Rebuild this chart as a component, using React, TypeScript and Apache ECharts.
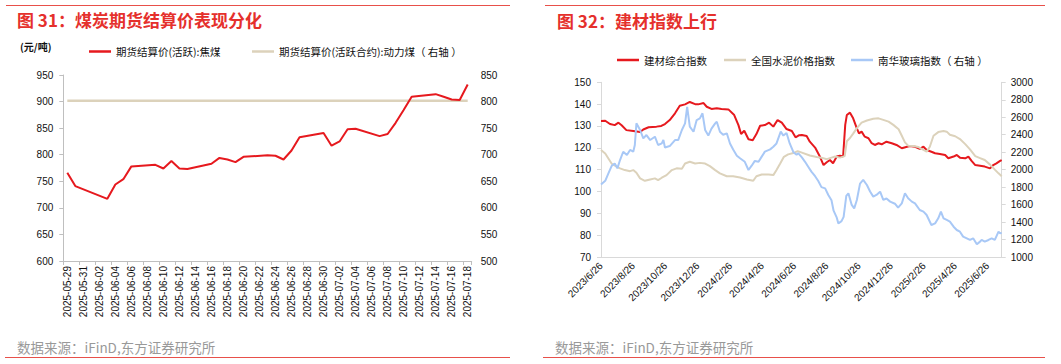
import React, { useEffect, useRef } from "react";
import * as echarts from "echarts";

// ---------- Figure 31 data ----------
const cokeDates = [
  "2025-05-29", "2025-05-30", "2025-06-03", "2025-06-04", "2025-06-05", "2025-06-06",
  "2025-06-09", "2025-06-10", "2025-06-11", "2025-06-12", "2025-06-13",
  "2025-06-16", "2025-06-17", "2025-06-18", "2025-06-19", "2025-06-20",
  "2025-06-23", "2025-06-24", "2025-06-25", "2025-06-26", "2025-06-27",
  "2025-06-30", "2025-07-01", "2025-07-02", "2025-07-03", "2025-07-04",
  "2025-07-07", "2025-07-08", "2025-07-09", "2025-07-10", "2025-07-11",
  "2025-07-14", "2025-07-15", "2025-07-16", "2025-07-17", "2025-07-18",
];
const cokeValues = [
  766, 741, 717, 744, 754, 778,
  781, 774, 788, 774, 773,
  783, 794, 791, 786, 796,
  799, 798, 791, 808, 833,
  841, 817, 825, 848, 849,
  835, 839, 860, 884, 909,
  914, 909, 904, 903, 932,
];
const thermalValues = [
  801.4, 801.4, 801.4, 801.4, 801.4, 801.4,
  801.4, 801.4, 801.4, 801.4, 801.4,
  801.4, 801.4, 801.4, 801.4, 801.4,
  801.4, 801.4, 801.4, 801.4, 801.4,
  801.4, 801.4, 801.4, 801.4, 801.4,
  801.4, 801.4, 801.4, 801.4, 801.4,
  801.4, 801.4, 801.4, 801.4, 801.4,
];

// ---------- Figure 32 data ----------
const bmDates = [
  "2023/6/26", "2023/7/4", "2023/7/13", "2023/7/22", "2023/7/29", "2023/8/4", "2023/8/13", "2023/8/26",
  "2023/9/8", "2023/9/14", "2023/9/24", "2023/10/9", "2023/10/18", "2023/10/25", "2023/11/3", "2023/11/13",
  "2023/11/22", "2023/12/2", "2023/12/11", "2023/12/21", "2023/12/27", "2024/1/6", "2024/1/12", "2024/1/21",
  "2024/1/31", "2024/2/9", "2024/2/22", "2024/3/4", "2024/3/12", "2024/3/17", "2024/3/23", "2024/3/31",
  "2024/4/8", "2024/4/15", "2024/4/22", "2024/5/1", "2024/5/9", "2024/5/17", "2024/5/25", "2024/6/2",
  "2024/6/11", "2024/6/21", "2024/6/28", "2024/7/5", "2024/7/10", "2024/7/19", "2024/7/25", "2024/8/4",
  "2024/8/13", "2024/8/20", "2024/8/26", "2024/9/1", "2024/9/7", "2024/9/14", "2024/9/20", "2024/9/26",
  "2024/9/30", "2024/10/3", "2024/10/9", "2024/10/15", "2024/10/22", "2024/10/26", "2024/10/31", "2024/11/6",
  "2024/11/13", "2024/11/19", "2024/11/25", "2024/12/2", "2024/12/8", "2024/12/17", "2024/12/27", "2025/1/5",
  "2025/1/15", "2025/1/30", "2025/2/9", "2025/2/18", "2025/2/25", "2025/3/3", "2025/3/12", "2025/3/19",
  "2025/3/28", "2025/4/7", "2025/4/13", "2025/4/23", "2025/4/29", "2025/5/5", "2025/5/15", "2025/5/21",
  "2025/5/27", "2025/6/3", "2025/6/12", "2025/6/21", "2025/7/1", "2025/7/7", "2025/7/13", "2025/7/20",
  "2025/7/23",
];
const bmValues = [
  132.3, 132.4, 130.9, 130.4, 131.5, 130.3, 128.1, 127.7,
  127.2, 128.4, 129.4, 129.7, 130.0, 130.9, 132.7, 135.8,
  139.3, 139.9, 141.0, 140.0, 139.9, 140.5, 138.8, 137.8,
  138.1, 137.8, 137.6, 135.0, 130.4, 126.3, 127.8, 123.9,
  123.5, 126.3, 130.1, 130.4, 131.5, 129.7, 132.7, 131.5,
  128.6, 127.7, 124.8, 125.8, 125.9, 125.4, 122.8, 120.1,
  116.0, 112.1, 113.4, 114.4, 112.9, 116.0, 116.4, 116.0,
  130.5, 135.0, 136.1, 133.5, 128.9, 126.6, 127.4, 125.1,
  124.4, 122.1, 121.3, 122.1, 121.6, 122.8, 122.1, 121.3,
  119.8, 120.8, 120.5, 119.5, 120.5, 119.0, 118.2, 117.5,
  117.2, 116.7, 115.2, 116.0, 116.7, 115.5, 115.2, 116.0,
  114.0, 112.1, 111.8, 111.4, 110.6, 112.1, 112.9, 114.0,
  114.4,
];

const cementDates = [
  "2023/6/26", "2023/7/4", "2023/7/10", "2023/7/16", "2023/7/24", "2023/8/1", "2023/8/10", "2023/8/20",
  "2023/8/26", "2023/9/1", "2023/9/8", "2023/9/17", "2023/9/27", "2023/10/6", "2023/10/12", "2023/10/19",
  "2023/10/28", "2023/11/7", "2023/11/16", "2023/11/26", "2023/12/2", "2023/12/11", "2023/12/21", "2023/12/30",
  "2024/1/9", "2024/1/18", "2024/1/28", "2024/2/6", "2024/2/19", "2024/3/2", "2024/3/15", "2024/3/28",
  "2024/4/9", "2024/4/15", "2024/4/25", "2024/5/8", "2024/5/17", "2024/5/23", "2024/5/30", "2024/6/6",
  "2024/6/14", "2024/6/24", "2024/7/2", "2024/7/10", "2024/7/25", "2024/8/7", "2024/8/16", "2024/8/26",
  "2024/9/4", "2024/9/11", "2024/9/20", "2024/9/29", "2024/10/3", "2024/10/9", "2024/10/15", "2024/10/22",
  "2024/10/31", "2024/11/10", "2024/11/22", "2024/12/2", "2024/12/11", "2024/12/21", "2024/12/30", "2025/1/9",
  "2025/1/15", "2025/1/21", "2025/1/27", "2025/2/6", "2025/2/15", "2025/2/25", "2025/3/3", "2025/3/9",
  "2025/3/16", "2025/3/25", "2025/4/4", "2025/4/10", "2025/4/16", "2025/4/26", "2025/5/5", "2025/5/15",
  "2025/5/24", "2025/6/3", "2025/6/12", "2025/6/21", "2025/7/1", "2025/7/10", "2025/7/17", "2025/7/23",
];
const cementValues = [
  119.0, 117.4, 115.1, 112.8, 111.6, 110.6, 109.8, 109.3,
  109.8, 108.6, 106.0, 104.9, 105.5, 106.0, 105.2, 106.3,
  107.5, 109.8, 110.6, 110.4, 112.8, 113.6, 112.8, 113.1,
  112.8, 111.6, 109.8, 108.3, 107.0, 107.0, 106.4, 105.5,
  104.9, 107.0, 107.8, 107.8, 107.5, 109.8, 112.8, 115.9,
  117.0, 117.6, 118.5, 117.8, 116.5, 115.8, 115.5, 114.8,
  115.5, 116.0, 115.5, 116.2, 123.0, 124.5, 126.5, 129.0,
  131.5, 132.5, 133.3, 133.5, 132.8, 132.0, 130.5, 128.5,
  125.5, 122.5, 121.0, 120.8, 120.4, 119.0, 118.2, 120.5,
  125.5, 127.2, 127.7, 127.4, 126.0, 125.3, 124.0, 121.7,
  119.3, 116.2, 115.3, 114.4, 112.3, 110.0, 108.3, 107.0,
];

const glassDates = [
  "2023/6/26", "2023/7/4", "2023/7/10", "2023/7/16", "2023/7/22", "2023/7/27", "2023/8/1", "2023/8/7",
  "2023/8/14", "2023/8/20", "2023/8/26", "2023/8/29", "2023/9/1", "2023/9/8", "2023/9/14", "2023/9/20",
  "2023/9/27", "2023/10/6", "2023/10/12", "2023/10/19", "2023/10/22", "2023/10/25", "2023/11/3", "2023/11/13",
  "2023/11/19", "2023/11/26", "2023/12/2", "2023/12/6", "2023/12/11", "2023/12/18", "2023/12/24", "2023/12/30",
  "2024/1/4", "2024/1/9", "2024/1/15", "2024/1/21", "2024/1/28", "2024/1/31", "2024/2/6", "2024/2/12",
  "2024/2/19", "2024/2/25", "2024/3/2", "2024/3/9", "2024/3/15", "2024/3/24", "2024/3/31", "2024/4/6",
  "2024/4/12", "2024/4/19", "2024/4/25", "2024/5/1", "2024/5/11", "2024/5/17", "2024/5/23", "2024/5/31",
  "2024/6/5", "2024/6/11", "2024/6/17", "2024/6/24", "2024/6/30", "2024/7/3", "2024/7/10", "2024/7/16",
  "2024/7/22", "2024/7/28", "2024/8/4", "2024/8/10", "2024/8/16", "2024/8/23", "2024/8/29", "2024/9/4",
  "2024/9/8", "2024/9/14", "2024/9/17", "2024/9/23", "2024/9/27", "2024/10/2", "2024/10/6", "2024/10/12",
  "2024/10/17", "2024/10/22", "2024/10/28", "2024/11/3", "2024/11/10", "2024/11/16", "2024/11/22", "2024/11/28",
  "2024/12/5", "2024/12/11", "2024/12/17", "2024/12/24", "2025/1/2", "2025/1/8", "2025/1/15", "2025/1/21",
  "2025/1/27", "2025/2/3", "2025/2/9", "2025/2/18", "2025/2/25", "2025/3/3", "2025/3/12", "2025/3/19",
  "2025/3/25", "2025/3/30", "2025/4/4", "2025/4/10", "2025/4/16", "2025/4/23", "2025/4/29", "2025/5/5",
  "2025/5/11", "2025/5/18", "2025/5/24", "2025/5/30", "2025/6/6", "2025/6/12", "2025/6/15", "2025/6/21",
  "2025/6/28", "2025/7/4", "2025/7/10", "2025/7/17", "2025/7/20", "2025/7/23",
];
const glassValues = [
  1830, 1872, 1957, 2041, 2071, 2015, 2110, 2205,
  2167, 2225, 2205, 2282, 2530, 2454, 2358, 2396,
  2339, 2377, 2282, 2301, 2339, 2254, 2270, 2339,
  2339, 2454, 2530, 2720, 2492, 2434, 2568, 2587,
  2645, 2454, 2390, 2470, 2530, 2549, 2434, 2400,
  2416, 2300, 2230, 2160, 2130, 2090, 1996, 2045,
  2100, 2090, 2149, 2206, 2232, 2263, 2300, 2435,
  2390, 2420, 2300, 2200, 2170, 2190, 2140, 2090,
  2034, 1977, 1925, 1870, 1800, 1786, 1710, 1650,
  1530, 1450, 1385, 1410, 1460, 1700, 1729, 1600,
  1557, 1653, 1840, 1882, 1824, 1750, 1691, 1710,
  1748, 1653, 1670, 1634, 1610, 1565, 1614, 1729,
  1672, 1634, 1614, 1538, 1519, 1481, 1366, 1385,
  1443, 1519, 1443, 1424, 1405, 1347, 1309, 1290,
  1233, 1214, 1195, 1214, 1145, 1176, 1195, 1176,
  1195, 1214, 1195, 1290, 1271, 1280,
];

// axis calendar ranges
const leftStart = "2025-05-29";
const leftEnd = "2025-07-18";
const rightStart = "2023-06-26";
const rightEnd = "2025-07-23";

function calendar(start: string, end: string, fmt: (y: number, m: number, d: number) => string) {
  const out: string[] = [];
  const [sy, sm, sd] = start.split("-").map(Number);
  const [ey, em, ed] = end.split("-").map(Number);
  let t = Date.UTC(sy, sm - 1, sd);
  const stop = Date.UTC(ey, em - 1, ed);
  while (t <= stop) {
    const dt = new Date(t);
    out.push(fmt(dt.getUTCFullYear(), dt.getUTCMonth() + 1, dt.getUTCDate()));
    t += 86400000;
  }
  return out;
}
const pad = (n: number) => (n < 10 ? "0" + n : "" + n);
const leftDays = calendar(leftStart, leftEnd, (y, m, d) => `${y}-${pad(m)}-${pad(d)}`);
const rightDays = calendar(rightStart, rightEnd, (y, m, d) => `${y}/${m}/${d}`);

const zip = (a: string[], b: number[]) => a.map((x, i) => [x, b[i]]);

const LATIN = '"Liberation Sans", Arial, "Noto Sans CJK SC", sans-serif';
const CJK = '"Noto Sans CJK SC", "Liberation Sans", sans-serif';
const AXIS_GRAY = "#bfbfbf";
const RED = "#e6191e";
const BEIGE = "#dcd2bb";
const BLUE = "#a8c8f6";
const TITLE_RED = "#e5302c";
const RULE_RED = "#e8504a";

export default function App() {
  const ref = useRef<HTMLDivElement>(null);
  useEffect(() => {
    if (!ref.current) return;
    const chart = echarts.init(ref.current, undefined, { renderer: "svg" });
    const plain = (v: number) => String(v);
    const axisLabelBase = { color: "#111", fontSize: 10, fontFamily: LATIN };
    const legendBase = {
      padding: 0,
      icon: "rect",
      itemWidth: 22,
      itemHeight: 2.5,
      textStyle: { color: "#111", fontSize: 10.5, fontFamily: CJK, lineHeight: 12 },
    };
    const option: any = {
      animation: false,
      backgroundColor: "#fff",
      grid: [
        { left: 63.3, right: 1061 - 471.7, top: 75, bottom: 364 - 261, containLabel: false },
        { left: 601, right: 1061 - 1001.7, top: 82.3, bottom: 364 - 257, containLabel: false },
      ],
      legend: [
        { ...legendBase, data: ["期货结算价(活跃):焦煤"], left: 89, top: 45.5 },
        { ...legendBase, data: ["期货结算价(活跃合约):动力煤（ 右轴 ）"], left: 252, top: 45.5 },
        { ...legendBase, data: ["建材综合指数"], left: 617, top: 54 },
        { ...legendBase, data: ["全国水泥价格指数"], left: 724, top: 54 },
        { ...legendBase, data: ["南华玻璃指数（ 右轴 ）"], left: 851, top: 54 },
      ],
      xAxis: [
        {
          type: "category",
          gridIndex: 0,
          data: leftDays,
          boundaryGap: true,
          axisLine: { lineStyle: { color: AXIS_GRAY, width: 1 } },
          axisTick: { show: true, interval: 1, length: 4, lineStyle: { color: AXIS_GRAY } },
          axisLabel: { ...axisLabelBase, interval: 1, rotate: 90, margin: 5 },
          splitLine: { show: false },
        },
        {
          type: "category",
          gridIndex: 1,
          data: rightDays,
          boundaryGap: false,
          axisLine: { lineStyle: { color: "#d9d9d9", width: 1 } },
          axisTick: { show: false },
          axisLabel: {
            ...axisLabelBase,
            rotate: 45,
            margin: 7,
            interval: (_i: number, v: string) => {
              const p = v.split("/").map(Number);
              return p[2] === 26 && p[1] % 2 === 0;
            },
          },
          splitLine: { show: false },
        },
      ],
      yAxis: [
        {
          type: "value",
          gridIndex: 0,
          min: 600,
          max: 950,
          interval: 50,
          axisLine: { show: true, lineStyle: { color: AXIS_GRAY } },
          axisTick: { show: true, length: 4, lineStyle: { color: AXIS_GRAY } },
          axisLabel: { ...axisLabelBase, margin: 10, formatter: plain },
          splitLine: { show: false },
        },
        {
          type: "value",
          gridIndex: 0,
          position: "right",
          min: 500,
          max: 850,
          interval: 50,
          axisLine: { show: false },
          axisTick: { show: false },
          axisLabel: { ...axisLabelBase, margin: 9, formatter: plain },
          splitLine: { show: false },
        },
        {
          type: "value",
          gridIndex: 1,
          min: 70,
          max: 150,
          interval: 10,
          axisLine: { show: true, lineStyle: { color: "#d9d9d9" } },
          axisTick: { show: true, length: 4, lineStyle: { color: "#d9d9d9" } },
          axisLabel: { ...axisLabelBase, margin: 10, formatter: plain },
          splitLine: { show: false },
        },
        {
          type: "value",
          gridIndex: 1,
          position: "right",
          min: 1000,
          max: 3000,
          interval: 200,
          axisLine: { show: true, lineStyle: { color: "#d9d9d9" } },
          axisTick: { show: true, length: 4, lineStyle: { color: "#d9d9d9" } },
          axisLabel: { ...axisLabelBase, margin: 9, formatter: plain },
          splitLine: { show: false },
        },
      ],
      series: [
        {
          name: "期货结算价(活跃):焦煤",
          type: "line",
          xAxisIndex: 0,
          yAxisIndex: 0,
          data: zip(cokeDates, cokeValues),
          showSymbol: false,
          color: RED,
          lineStyle: { color: RED, width: 2 },
          z: 3,
        },
        {
          name: "期货结算价(活跃合约):动力煤（ 右轴 ）",
          type: "line",
          xAxisIndex: 0,
          yAxisIndex: 1,
          data: zip(cokeDates, thermalValues),
          showSymbol: false,
          color: BEIGE,
          lineStyle: { color: BEIGE, width: 2.5 },
          z: 2,
        },
        {
          name: "建材综合指数",
          type: "line",
          xAxisIndex: 1,
          yAxisIndex: 2,
          data: zip(bmDates, bmValues),
          showSymbol: false,
          color: RED,
          lineStyle: { color: RED, width: 2 },
        },
        {
          name: "全国水泥价格指数",
          type: "line",
          xAxisIndex: 1,
          yAxisIndex: 2,
          data: zip(cementDates, cementValues),
          showSymbol: false,
          color: BEIGE,
          lineStyle: { color: BEIGE, width: 2 },
        },
        {
          name: "南华玻璃指数（ 右轴 ）",
          type: "line",
          xAxisIndex: 1,
          yAxisIndex: 3,
          data: zip(glassDates, glassValues),
          showSymbol: false,
          color: BLUE,
          lineStyle: { color: BLUE, width: 2 },
        },
      ],
      graphic: [
        { type: "line", shape: { x1: 6, y1: 5.5, x2: 510, y2: 5.5 }, style: { stroke: RULE_RED, lineWidth: 1 } },
        { type: "line", shape: { x1: 545, y1: 5.5, x2: 1045, y2: 5.5 }, style: { stroke: RULE_RED, lineWidth: 1 } },
        { type: "line", shape: { x1: 5, y1: 357.5, x2: 510, y2: 357.5 }, style: { stroke: RULE_RED, lineWidth: 1 } },
        { type: "line", shape: { x1: 543, y1: 357.5, x2: 1045, y2: 357.5 }, style: { stroke: RULE_RED, lineWidth: 1 } },
        {
          type: "text",
          x: 17,
          y: 19.5,
          style: { text: "图 31：煤炭期货结算价表现分化", fill: TITLE_RED, font: `bold 17px ${CJK}`, verticalAlign: "middle" },
        },
        {
          type: "text",
          x: 557,
          y: 20,
          style: { text: "图 32：建材指数上行", fill: TITLE_RED, font: `bold 17px ${CJK}`, verticalAlign: "middle" },
        },
        {
          type: "text",
          x: 20,
          y: 46,
          style: { text: "(元/吨)", fill: "#111", font: `bold 10px ${CJK}`, verticalAlign: "middle" },
        },
        {
          type: "text",
          x: 17,
          y: 347,
          style: { text: "数据来源：iFinD,东方证券研究所", fill: "#999", font: `13.5px ${CJK}`, verticalAlign: "middle" },
        },
        {
          type: "text",
          x: 555,
          y: 347,
          style: { text: "数据来源：iFinD,东方证券研究所", fill: "#999", font: `13.5px ${CJK}`, verticalAlign: "middle" },
        },
      ],
    };
    chart.setOption(option);
    return () => chart.dispose();
  }, []);
  return (
    <div
      ref={ref}
      style={{ position: "absolute", left: 0, top: 0, width: 1061, height: 364, background: "#fff" }}
    />
  );
}
